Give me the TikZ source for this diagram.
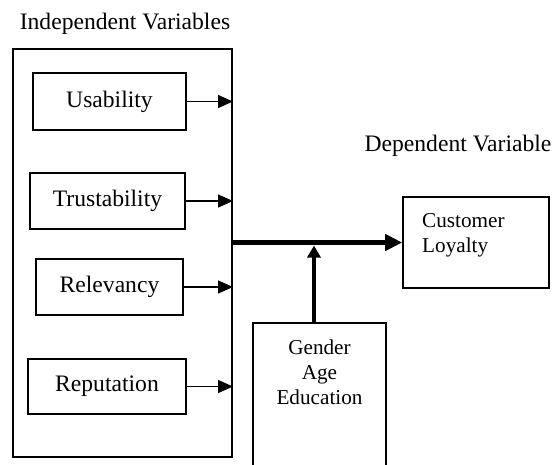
\documentclass[tikz,border=0pt]{standalone}
\usepackage{fontspec}
\setmainfont{Liberation Serif}
\usetikzlibrary{arrows.meta}
\tikzset{
  bigfont/.style={font=\fontsize{23.6}{28}\selectfont},
  smallfont/.style={font=\fontsize{21.2}{24.8}\selectfont},
  varbox/.style={draw, line width=1.6pt, inner sep=0pt, bigfont},
  frame/.style={draw, line width=2pt, inner sep=0pt},
  thinarrow/.style={line width=1.3pt, -{Triangle[length=15pt,width=13pt]}},
  thickarrow/.style={line width=5.5pt, -{Triangle[length=17pt,width=16pt]}},
  midarrow/.style={line width=4pt, -{Triangle[length=12pt,width=13pt]}},
}
\begin{document}
\begin{tikzpicture}[x=1pt,y=-1pt]
\useasboundingbox (0,0) rectangle (557,464);
% titles
\node[bigfont, inner sep=0pt] (indtitle) at (125,24) {Independent Variables};
\node[bigfont, inner sep=0pt] (deptitle) at (458,146) {Dependent Variable};
% big frame
\node[frame, minimum width=219pt, minimum height=408pt] (indep) at (122.5,253) {};
% variable boxes
\node[varbox, minimum width=153pt, minimum height=57pt] (usab) at (109.5,101.5) {Usability};
\node[varbox, minimum width=155pt, minimum height=56pt] (trust) at (107.5,201) {Trustability};
\node[varbox, minimum width=147pt, minimum height=56pt] (relev) at (109.5,287) {Relevancy};
\node[varbox, minimum width=158pt, minimum height=55pt] (reput) at (107,386.5) {Reputation};
% arrows to frame edge
\draw[thinarrow] (usab.east) -- (usab.east -| indep.east);
\draw[thinarrow] (trust.east) -- (trust.east -| indep.east);
\draw[thinarrow] (relev.east) -- (relev.east -| indep.east);
\draw[thinarrow] (reput.east) -- (reput.east -| indep.east);
% customer loyalty
\node[frame, line width=1.6pt, minimum width=146pt, minimum height=91pt] (cust) at (476,242.5) {};
\node[smallfont, align=left, anchor=west, inner sep=0pt] (custlab) at (422,235) {Customer\\Loyalty};
\draw[thickarrow] (cust.west -| indep.east) -- (cust.west);
% gender box
\node[frame, line width=1.6pt, minimum width=133pt, minimum height=160pt] (gbox) at (319.5,403) {};
\node[smallfont, align=center, inner sep=0pt] (glab) at (319.5,372) {Gender\\Age\\Education};
\coordinate (gtop) at (314,323);
\draw[midarrow, shorten >=3pt] (gtop) -- (gtop |- cust.west);
\end{tikzpicture}
\end{document}
